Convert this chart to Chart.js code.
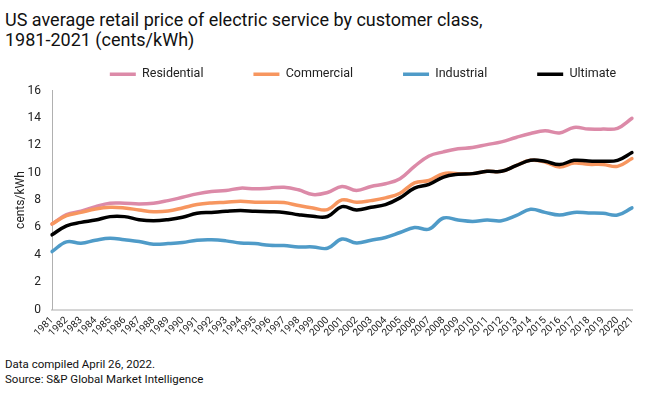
<!DOCTYPE html>
<html>
<head>
<meta charset="utf-8">
<script src="https://cdn.jsdelivr.net/npm/chart.js@4"></script>
<style>
  body { margin: 0; background: #fff; width: 660px; height: 396px; overflow: hidden; position: relative; font-family: Roboto, sans-serif; color: #111; }
  #titulo { position: absolute; left: 5px; top: 10px; font-size: 18px; line-height: 20px; }
  #rodape { position: absolute; left: 5px; top: 357px; font-size: 11.5px; line-height: 15px; }
  #area { position: absolute; left: 0; top: 18px; width: 660px; height: 326px; }
</style>
</head>
<body>
<div id="titulo">US average retail price of electric service by customer class,<br>1981-2021 (cents/kWh)</div>
<div id="area"><canvas id="grafico"></canvas></div>
<div id="rodape">Data compiled April 26, 2022.<br>Source: S&amp;P Global Market Intelligence</div>
<script>
const anos = [];
for (let a = 1981; a <= 2021; a++) anos.push(String(a));

const residencial = [6.25,6.93,7.18,7.52,7.77,7.77,7.72,7.77,7.96,8.2,8.45,8.62,8.7,8.87,8.82,8.87,8.94,8.75,8.4,8.55,8.99,8.7,8.99,9.19,9.56,10.46,11.22,11.52,11.74,11.84,12.05,12.25,12.57,12.86,13.06,12.9,13.3,13.18,13.18,13.24,13.97];
const comercial = [6.25,6.86,7.1,7.35,7.47,7.42,7.28,7.15,7.2,7.42,7.67,7.79,7.84,7.91,7.84,7.84,7.82,7.6,7.42,7.3,8.01,7.84,7.96,8.16,8.5,9.26,9.43,9.93,9.93,9.93,10.1,10.1,10.51,10.9,10.78,10.41,10.7,10.61,10.6,10.46,11.03];
const industrial = [4.24,4.95,4.85,5.07,5.22,5.1,4.97,4.78,4.82,4.9,5.07,5.1,5.02,4.87,4.82,4.7,4.68,4.58,4.58,4.48,5.15,4.87,5.07,5.27,5.63,6.0,5.88,6.69,6.54,6.44,6.54,6.49,6.86,7.33,7.1,6.91,7.1,7.06,7.03,6.91,7.43];
const ultimo = [5.46,6.12,6.37,6.54,6.79,6.79,6.57,6.49,6.57,6.74,7.03,7.1,7.18,7.23,7.18,7.15,7.1,6.93,6.81,6.8,7.52,7.28,7.47,7.67,8.16,8.87,9.14,9.68,9.88,9.93,10.1,10.1,10.51,10.9,10.83,10.59,10.9,10.85,10.83,10.9,11.47];

const fonte = "Roboto, sans-serif";

function serie(nome, dados, cor, ordem) {
    return {
        label: nome,
        data: dados,
        borderColor: cor,
        backgroundColor: cor,
        borderWidth: 3.5,
        borderCapStyle: 'round',
        borderJoinStyle: 'round',
        pointRadius: 0,
        tension: 0.4,
        order: ordem
    };
}

// empurra a legenda um pouco para a direita, como no original
const deslocaLegenda = {
    id: 'deslocaLegenda',
    afterLayout(chart) {
        chart.legend.left += 40;
        chart.legend.right += 40;
    }
};

new Chart(document.getElementById("grafico"), {
    type: 'line',
    data: {
        labels: anos,
        datasets: [
            serie('Residential', residencial, '#dc8aa8', 3),
            serie('Commercial', comercial, '#f7965f', 2),
            serie('Industrial', industrial, '#4f9bc8', 1),
            serie('Ultimate', ultimo, '#000000', 0)
        ]
    },
    options: {
        responsive: true,
        maintainAspectRatio: false,
        animation: false,
        layout: { padding: { left: 14, right: 28, top: 0, bottom: 0 } },
        plugins: {
            legend: {
                position: 'top',
                labels: {
                    usePointStyle: true,
                    pointStyle: 'line',
                    pointStyleWidth: 26,
                    padding: 50,
                    color: '#222',
                    font: { family: fonte, size: 12.5 },
                    sort: (a, b) => a.datasetIndex - b.datasetIndex
                }
            },
            tooltip: { enabled: false }
        },
        scales: {
            x: {
                grid: { display: false, drawTicks: false },
                border: { color: '#d6d6d6', width: 2 },
                ticks: {
                    minRotation: 45,
                    maxRotation: 45,
                    autoSkip: false,
                    color: '#222',
                    padding: 5,
                    font: { family: fonte, size: 10 }
                }
            },
            y: {
                min: 0,
                max: 16,
                afterFit(escala) { escala.width = 38; },
                grid: { display: false, drawTicks: false },
                border: { color: '#b0b0b0', width: 1 },
                ticks: {
                    stepSize: 2,
                    color: '#222',
                    padding: 11,
                    font: { family: fonte, size: 12 }
                },
                title: {
                    display: true,
                    text: 'cents/kWh',
                    color: '#222',
                    padding: { top: 0, bottom: 0 },
                    font: { family: fonte, size: 12 }
                }
            }
        }
    },
    plugins: [deslocaLegenda]
});
</script>
</body>
</html>
